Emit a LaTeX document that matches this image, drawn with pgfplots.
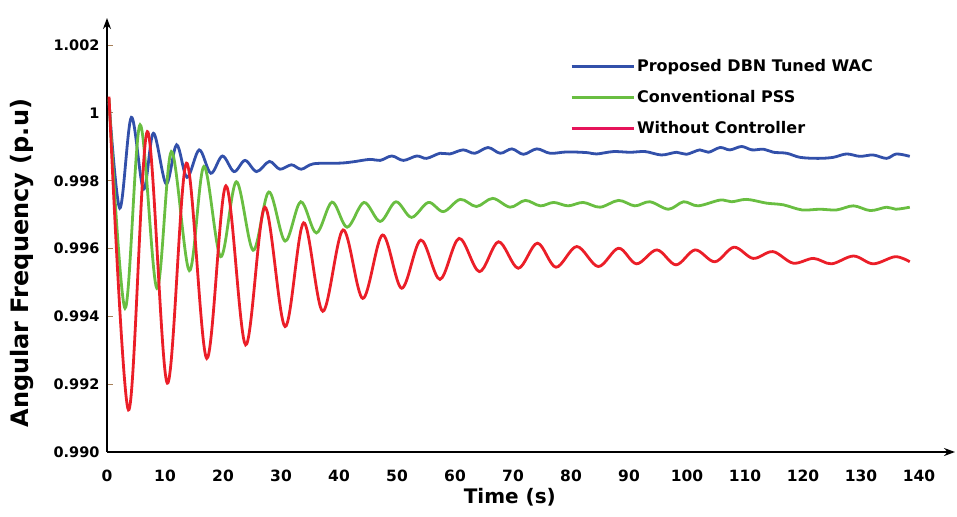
\documentclass[border=0pt]{standalone}
\usepackage{pgfplots}
\pgfplotsset{compat=1.18}
\usetikzlibrary{arrows.meta}
\usepackage{fontspec}
\setmainfont{DejaVu Sans}
\definecolor{cblue}{RGB}{50,80,170}
\definecolor{cgreen}{RGB}{105,190,65}
\definecolor{cred}{RGB}{235,30,40}
\definecolor{cpink}{RGB}{230,20,90}
\begin{document}
\begin{tikzpicture}
\begin{axis}[
  scale only axis, width=848pt, height=434pt,
  xmin=0, xmax=146.2, ymin=0.990, ymax=1.0028,
  axis lines=left,
  axis line style={line width=2pt, -{Stealth[length=11pt,width=8pt]}},
  xtick={0,10,20,30,40,50,60,70,80,90,100,110,120,130,140},
  xticklabels={0,10,20,30,40,50,60,70,80,90,100,110,120,130,140},
  ytick={0.990,0.992,0.994,0.996,0.998,1.000,1.002},
  yticklabels={0.990,0.992,0.994,0.996,0.998,1,1.002},
  xticklabel style={font=\fontsize{15.5}{15.5}\selectfont\bfseries, yshift=-14pt},
  yticklabel style={font=\fontsize{14.5}{14.5}\selectfont\bfseries, xshift=-4pt},
  tick align=inside, major tick length=6pt,
  xtick style={draw=none},
  ytick style={draw=brown!60!gray, line width=1pt},
  /pgf/number format/assume math mode=true,
  xlabel={Time (s)},
  ylabel={Angular Frequency (p.u)},
  xlabel style={font=\fontsize{20}{20}\selectfont\bfseries, at={(axis description cs:0.475,-0.1037)}, anchor=center},
  ylabel style={font=\fontsize{24}{24}\selectfont\bfseries, at={(axis description cs:-0.1,0.435)}, anchor=center},
  legend style={at={(rel axis cs:0.5459,0.9097)}, anchor=north west, draw=none, fill=none,
    font=\fontsize{16}{16}\selectfont\bfseries, row sep=13.5pt, inner sep=0pt,
    legend cell align=left},
  legend image code/.code={\draw[#1, line width=3pt] (0pt,0pt) -- (60pt,0pt); \path (60pt,0pt) -- (62pt,0pt);},
  every axis plot/.append style={line width=2.8pt, smooth, tension=0.55},
]
\addplot[cblue] coordinates {
(0.35,1.0003) (2.2,0.99719) (4.2,0.99987) (6.3,0.99775) (8.0,0.99940)
(10.2,0.99791) (12.0,0.99906) (13.8,0.99810) (15.9,0.99891) (17.9,0.99822)
(19.9,0.99873) (21.9,0.99827) (23.8,0.99860) (25.8,0.99827) (28.0,0.99857)
(29.8,0.99834) (31.8,0.99847) (33.5,0.99834) (35.6,0.99850) (40.2,0.99852)
(42.5,0.99856) (45.3,0.99863) (47.1,0.99860) (49.1,0.99873) (51.1,0.99860)
(53.4,0.99873) (55.1,0.99866) (57.4,0.99881) (59.1,0.99879) (61.4,0.99891)
(63.4,0.99881) (65.7,0.99898) (67.8,0.99881) (69.8,0.99894) (71.8,0.99878)
(74.1,0.99894) (76.4,0.99881) (79.3,0.99885) (82.7,0.99883) (84.4,0.99879)
(87.3,0.99886) (90.2,0.99884) (92.8,0.99886) (95.6,0.99876) (98.2,0.99884)
(99.9,0.99878) (102.2,0.99891) (103.7,0.99884) (105.7,0.99898) (107.4,0.99891)
(109.4,0.99901) (111.2,0.99891) (113.2,0.99893) (114.9,0.99884) (117.2,0.99881)
(119.5,0.99869) (122.6,0.99866) (125.2,0.99869) (127.5,0.99879) (129.8,0.99872)
(132.1,0.99876) (134.4,0.99866) (136.1,0.99879) (138.4,0.99872)
};
\addlegendentry{Proposed DBN Tuned WAC}
\addplot[cgreen] coordinates {
(0.35,1.0004) (3.1,0.99424) (5.7,0.99965) (8.6,0.99483) (11.1,0.99886)
(14.2,0.99535) (16.7,0.99842) (19.6,0.99576) (22.3,0.99797) (25.2,0.99595)
(27.9,0.99767) (30.7,0.99622) (33.4,0.99738) (36.1,0.99646) (38.8,0.99737)
(41.4,0.99663) (44.3,0.99736) (47.1,0.99680) (49.8,0.99738) (52.5,0.99692)
(55.4,0.99736) (58.0,0.99709) (60.9,0.99745) (63.7,0.99724) (66.5,0.99748)
(69.5,0.99722) (72.1,0.99742) (74.7,0.99726) (77.0,0.99736) (79.5,0.99726)
(82.1,0.99736) (85.0,0.99722) (88.2,0.99742) (91.0,0.99726) (93.6,0.99738)
(96.8,0.99716) (99.4,0.99738) (101.9,0.99726) (105.7,0.99743) (107.7,0.99738)
(110.3,0.99745) (113.7,0.99734) (116.6,0.99729) (119.8,0.99714) (122.9,0.99716)
(125.8,0.99714) (128.7,0.99726) (131.6,0.99712) (134.4,0.99722) (136.0,0.99716)
(138.4,0.99722)
};
\addlegendentry{Conventional PSS}
\addplot[cred, legend image post style={color=cpink}] coordinates {
(0.35,1.00048) (3.7,0.99124) (6.95,0.99945) (10.4,0.99203) (13.7,0.99852)
(17.2,0.99276) (20.5,0.99785) (23.9,0.99316) (27.2,0.99722) (30.7,0.99370)
(33.9,0.99676) (37.2,0.99415) (40.7,0.99655) (44.1,0.99453) (47.5,0.99640)
(50.8,0.99483) (54.1,0.99625) (57.4,0.99509) (60.7,0.99630) (64.2,0.99532)
(67.5,0.99620) (70.9,0.99542) (74.2,0.99616) (77.4,0.99545) (81.0,0.99606)
(84.7,0.99547) (88.2,0.99601) (91.3,0.99555) (94.8,0.99596) (98.1,0.99552)
(101.4,0.99596) (104.8,0.99561) (108.1,0.99604) (111.4,0.99571) (114.8,0.99591)
(118.3,0.99557) (121.8,0.99571) (124.9,0.99555) (128.7,0.99578) (132.1,0.99555)
(135.9,0.99576) (138.4,0.99561)
};
\addlegendentry{Without Controller}
\coordinate (o) at (rel axis cs:0,0);
\end{axis}
\pgfresetboundingbox
\path (o) ++(-107pt,-64pt) rectangle ++(957pt,516pt);
\end{tikzpicture}
\end{document}
